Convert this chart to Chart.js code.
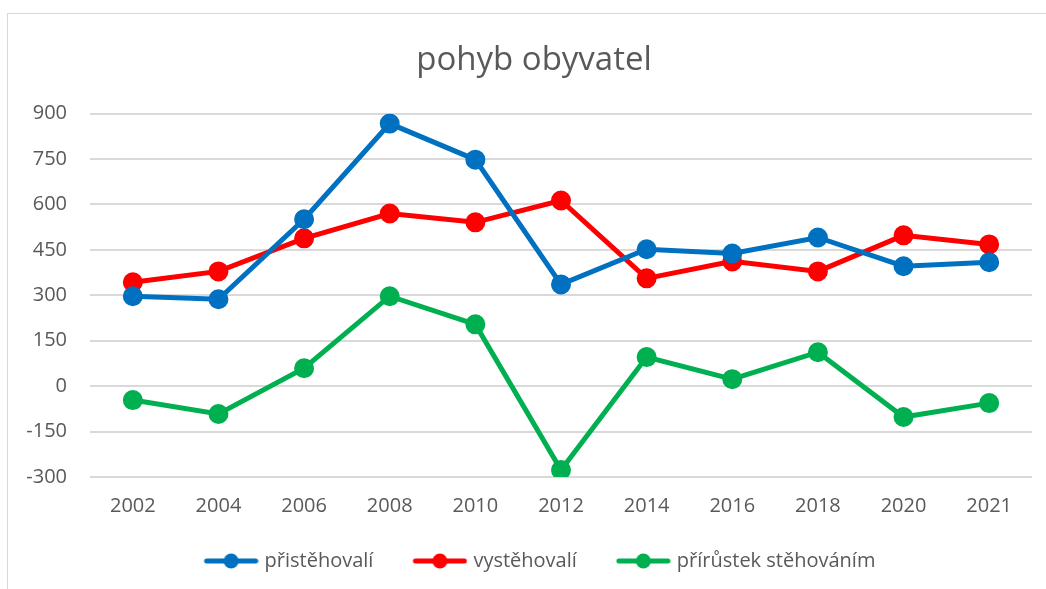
<!DOCTYPE html>
<html>
<head>
<meta charset="utf-8">
<script src="https://cdn.jsdelivr.net/npm/chart.js@4/dist/chart.umd.min.js"></script>
<style>
  html, body { margin: 0; padding: 0; background: #fff; }
  #wrap { position: relative; box-sizing: border-box; border: 1px solid #d9d9d9; border-right: none; border-bottom: none; margin-left: 7px; margin-top: 13px; width: 1039px; height: 576px; }
</style>
</head>
<body>
<div id="wrap"><canvas id="chart"></canvas></div>
<script>
const years = ['2002', '2004', '2006', '2008', '2010', '2012', '2014', '2016', '2018', '2020', '2021'];
const prisehovali = [297, 287, 551, 867, 748, 336, 452, 438, 491, 396, 409];
const vystehovali = [343, 379, 488, 570, 541, 613, 356, 412, 379, 498, 468];
const prirustek = [-46, -92, 59, 297, 204, -277, 96, 23, 112, -102, -56];
const yTicks = [-300, -150, 0, 150, 300, 450, 600, 750, 900];

const FONT = "'Open Sans', 'Noto Sans', sans-serif";
const TEXT = '#595959';
const ICON_W = 80;

// legend marker: line with a dot in the middle, Excel style (left part of the box is the gap)
function legendIcon(color) {
    const c = document.createElement('canvas');
    c.width = ICON_W + 8; c.height = 18;
    const ctx = c.getContext('2d');
    ctx.strokeStyle = color;
    ctx.lineWidth = 5;
    ctx.lineCap = 'round';
    ctx.beginPath();
    ctx.moveTo(c.width - 52, 9); ctx.lineTo(c.width - 3, 9);
    ctx.stroke();
    ctx.fillStyle = color;
    ctx.beginPath();
    ctx.arc(c.width - 27.5, 9, 7.5, 0, Math.PI * 2);
    ctx.fill();
    return c;
}

function series(label, data, color) {
    return {
        label, data,
        borderColor: color, backgroundColor: color,
        borderWidth: 5, pointRadius: 7.5, pointHoverRadius: 7.5,
        pointBackgroundColor: color, pointBorderColor: color,
        tension: 0, fill: false,
        legendIcon: legendIcon(color)
    };
}

// nudge title and legend a bit to the right, like in the original
const boxShift = {
    id: 'boxShift',
    afterLayout(chart) {
        chart.legend.left += 5;
        chart.legend.right += 5;
        chart.titleBlock.left += 14;
        chart.titleBlock.right += 14;
    }
};

new Chart(document.getElementById('chart'), {
    type: 'line',
    data: {
        labels: years,
        datasets: [
            series('přistěhovalí', prisehovali, '#0070C0'),
            series('vystěhovalí', vystehovali, '#FF0000'),
            series('přírůstek stěhováním', prirustek, '#00B050')
        ]
    },
    plugins: [boxShift],
    options: {
        responsive: true, maintainAspectRatio: false, animation: false,
        layout: { padding: { left: 0, right: 14, top: 27, bottom: 8 } },
        plugins: {
            title: {
                display: true, text: 'pohyb obyvatel', color: TEXT,
                font: { family: FONT, size: 33, weight: 'normal' },
                padding: { top: 0, bottom: 33 }
            },
            legend: {
                position: 'bottom',
                labels: {
                    color: TEXT, font: { family: FONT, size: 20 },
                    usePointStyle: true, pointStyleWidth: ICON_W, padding: 10,
                    generateLabels: (chart) => chart.data.datasets.map((ds, i) => ({
                        text: ds.label, pointStyle: ds.legendIcon,
                        fontColor: TEXT, datasetIndex: i, hidden: false, lineWidth: 0
                    }))
                }
            },
            tooltip: { enabled: false }
        },
        scales: {
            x: {
                offset: true,
                afterFit: (axis) => { axis.height = 64; },
                grid: { display: false, drawTicks: false },
                border: { display: false },
                ticks: { color: TEXT, font: { family: FONT, size: 20 }, padding: 17 }
            },
            y: {
                min: -300, max: 900,
                afterBuildTicks: (axis) => { axis.ticks = yTicks.map(v => ({ value: v })); },
                afterFit: (axis) => { axis.width = 82; },
                grid: { color: '#d9d9d9', lineWidth: 2, drawTicks: false },
                border: { display: false },
                ticks: { color: TEXT, font: { family: FONT, size: 20 }, padding: 23 }
            }
        }
    }
});
</script>
</body>
</html>
